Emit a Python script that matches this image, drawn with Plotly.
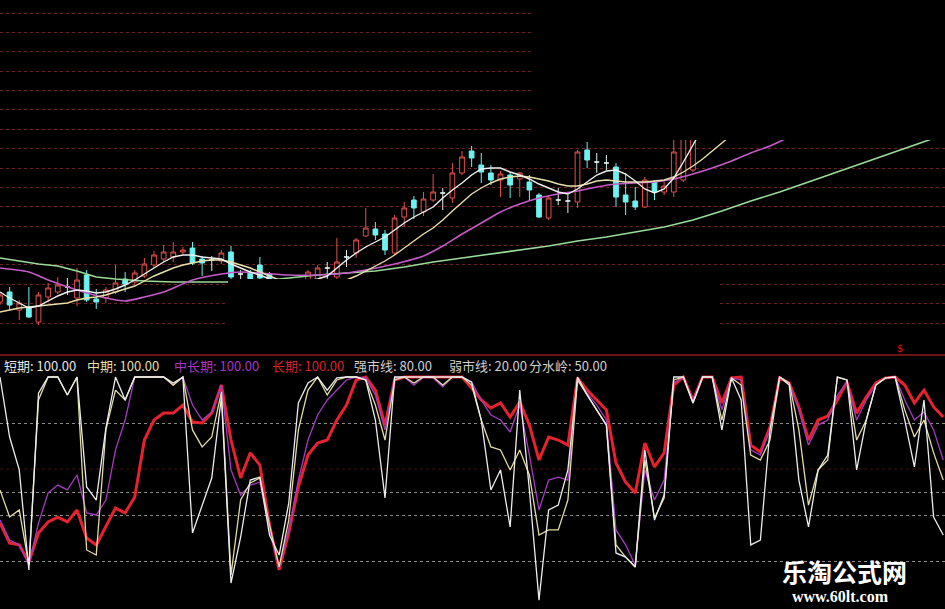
import plotly.graph_objects as go

W, H = 945, 609

# ---------------- price panel data ----------------
bars = list(range(73))
open_ = [6.98, 7.08, 6.90, 6.93, 6.78, 7.03, 7.08, 7.13, 7.02, 7.25,
         7.01, 7.02, 7.08, 7.21, 7.18, 7.24, 7.35, 7.41, 7.43, 7.48,
         7.52, 7.41, 7.40, 7.39, 7.48, 7.26, 7.27, 7.35, 7.26, 7.15,
         7.04, 7.10, 7.18, 7.20, 7.32, 7.23, 7.43, 7.47, 7.64, 7.71,
         7.66, 7.47, 7.83, 8.00, 7.88, 8.00, 8.07, 8.02, 8.27, 8.49,
         8.35, 8.27, 8.20, 8.25, 8.21, 8.18, 8.05, 7.82, 8.00, 7.99,
         7.98, 8.50, 8.38, 8.37, 8.33, 8.05, 7.99, 7.93, 8.18, 8.08,
         8.08, 8.20, 8.30]
high = [7.08, 7.13, 7.00, 7.13, 7.08, 7.17, 7.23, 7.22, 7.32, 7.30,
        7.11, 7.13, 7.35, 7.28, 7.30, 7.42, 7.49, 7.55, 7.58, 7.53,
        7.58, 7.44, 7.44, 7.50, 7.54, 7.30, 7.30, 7.43, 7.28, 7.20,
        7.16, 7.21, 7.30, 7.35, 7.38, 7.62, 7.50, 7.62, 7.92, 7.78,
        7.70, 7.85, 7.98, 8.04, 8.08, 8.26, 8.12, 8.37, 8.49, 8.54,
        8.47, 8.35, 8.29, 8.28, 8.28, 8.25, 8.07, 8.05, 8.12, 8.05,
        8.50, 8.58, 8.47, 8.45, 8.37, 8.27, 8.13, 8.23, 8.20, 8.18,
        8.75, 8.80, 8.80]
low = [6.95, 6.90, 6.80, 6.82, 6.75, 6.98, 7.06, 7.05, 6.94, 6.98,
       6.91, 6.97, 7.06, 7.08, 7.15, 7.22, 7.32, 7.38, 7.38, 7.46,
       7.35, 7.24, 7.29, 7.36, 7.18, 7.15, 7.10, 7.10, 7.08, 7.00,
       7.00, 7.08, 7.15, 7.18, 7.20, 7.21, 7.33, 7.42, 7.63, 7.60,
       7.45, 7.45, 7.73, 7.81, 7.84, 7.98, 7.90, 7.97, 8.25, 8.33,
       8.17, 8.15, 8.03, 8.02, 8.03, 8.00, 7.82, 7.80, 7.95, 7.87,
       7.92, 8.32, 8.27, 8.30, 7.93, 7.85, 7.90, 7.92, 8.00, 8.05,
       8.03, 8.18, 8.28]
close = [7.05, 6.95, 6.97, 6.83, 7.05, 7.12, 7.15, 7.13, 7.20, 7.00,
         6.98, 7.10, 7.17, 7.16, 7.27, 7.36, 7.45, 7.48, 7.48, 7.50,
         7.37, 7.37, 7.40, 7.47, 7.23, 7.26, 7.21, 7.22, 7.15, 7.05,
         7.12, 7.19, 7.28, 7.32, 7.32, 7.38, 7.43, 7.60, 7.72, 7.65,
         7.50, 7.82, 7.92, 7.92, 8.01, 8.08, 8.07, 8.27, 8.43, 8.42,
         8.28, 8.20, 8.26, 8.15, 8.27, 8.10, 7.83, 8.02, 8.00, 7.99,
         8.48, 8.40, 8.38, 8.37, 8.03, 7.98, 7.93, 8.20, 8.08, 8.14,
         8.48, 8.70, 8.75]

ma5 = [7.08, 7.02, 6.97, 6.92, 6.94, 6.99, 7.04, 7.08, 7.10, 7.09,
       7.07, 7.08, 7.11, 7.15, 7.20, 7.26, 7.32, 7.38, 7.43, 7.45,
       7.45, 7.43, 7.42, 7.41, 7.36, 7.32, 7.28, 7.25, 7.21, 7.17,
       7.15, 7.16, 7.19, 7.21, 7.24, 7.32, 7.40, 7.47, 7.53, 7.58,
       7.63, 7.70, 7.77, 7.83, 7.88, 7.93, 8.02, 8.10, 8.17, 8.25,
       8.31, 8.32, 8.32, 8.28, 8.25, 8.21, 8.16, 8.12, 8.08, 8.06,
       8.11, 8.18, 8.25, 8.29, 8.30, 8.26, 8.19, 8.11, 8.07, 8.11,
       8.22, 8.38, 8.55, 8.72]
ma10 = [6.88, 6.90, 6.92, 6.93, 6.94, 6.95, 6.96, 6.97, 7.00, 7.02,
        7.03, 7.05, 7.08, 7.11, 7.14, 7.19, 7.24, 7.28, 7.32, 7.35,
        7.37, 7.39, 7.40, 7.40, 7.38, 7.35, 7.32, 7.28, 7.24, 7.20,
        7.17, 7.15, 7.14, 7.15, 7.16, 7.18, 7.20, 7.24, 7.29, 7.34,
        7.39, 7.45, 7.52, 7.59, 7.66, 7.72, 7.80, 7.89, 7.98, 8.06,
        8.12, 8.17, 8.21, 8.23, 8.24, 8.23, 8.21, 8.19, 8.16, 8.14,
        8.14, 8.16, 8.19, 8.20, 8.19, 8.18, 8.18, 8.18, 8.19, 8.20,
        8.23, 8.28, 8.34, 8.41, 8.49, 8.57, 8.65]
ma30_idx = [0, 3, 5, 8, 11, 13, 15, 17, 20, 23, 25, 27, 30, 33, 35, 38, 41, 44, 46,
            48, 50, 52, 54, 56, 58, 60, 62, 64, 66, 68, 70, 72, 74, 76, 78, 80, 82]
ma30 = [7.32, 7.28, 7.20, 7.10, 7.02, 6.99, 7.03, 7.08, 7.20, 7.26, 7.28, 7.27, 7.25,
        7.25, 7.26, 7.30, 7.36, 7.44, 7.54, 7.66, 7.77, 7.88, 7.96, 8.02, 8.06, 8.09,
        8.13, 8.16, 8.17, 8.18, 8.21, 8.26, 8.32, 8.39, 8.47, 8.54, 8.63]
ma60_idx = [0, 2, 4, 6, 8, 10, 12, 15, 18, 21, 24, 27, 30, 33, 36, 39, 42, 45, 48, 51,
            54, 57, 60, 63, 66, 69, 72, 75, 78, 81, 84, 87, 90, 93, 96, 98]
ma60 = [7.42, 7.39, 7.36, 7.34, 7.29, 7.23, 7.21, 7.19, 7.18, 7.18, 7.18, 7.19, 7.22,
        7.25, 7.27, 7.29, 7.33, 7.38, 7.42, 7.46, 7.50, 7.54, 7.59, 7.63, 7.68, 7.73,
        7.80, 7.89, 7.99, 8.08, 8.18, 8.28, 8.38, 8.48, 8.58, 8.65]

# ---------------- indicator panel data ----------------
ind_x = list(range(99))
short = [100.0, 73.9, 59.6, 16.1, 93.0, 100.0, 100.0, 92.2, 100.0, 52.2,
         46.5, 77.8, 100.0, 90.0, 100.0, 100.0, 100.0, 100.0, 97.4, 100.0,
         32.2, 44.3, 56.1, 91.3, 10.4, 30.4, 55.2, 56.5, 31.3, 22.6,
         45.2, 88.7, 97.4, 100.0, 94.3, 99.6, 100.0, 100.0, 98.7, 81.3,
         47.4, 100.0, 100.0, 100.0, 100.0, 100.0, 100.0, 100.0, 100.0, 97.8,
         81.3, 50.9, 59.6, 34.8, 94.3, 50.9, 3.0, 42.2, 44.3, 59.6,
         100.0, 92.2, 85.7, 79.1, 23.5, 21.7, 17.4, 68.3, 37.8, 48.7,
         100.0, 100.0, 88.7, 100.0, 100.0, 77.0, 99.6, 90.0, 27.0, 29.1,
         77.0, 100.0, 96.5, 55.2, 34.8, 59.6, 66.1, 100.0, 98.7, 59.6,
         81.3, 96.5, 99.6, 100.0, 81.3, 60.9, 90.0, 39.1, 31.3]
mid = [50.9, 39.1, 42.2, 18.3, 90.0, 100.0, 100.0, 92.2, 100.0, 24.8,
       22.6, 77.0, 94.3, 90.0, 100.0, 100.0, 100.0, 100.0, 96.5, 100.0,
       77.0, 69.6, 73.9, 93.5, 13.9, 46.5, 53.9, 56.1, 35.7, 17.4,
       37.8, 77.0, 94.3, 100.0, 92.2, 98.7, 100.0, 100.0, 98.7, 87.8,
       72.6, 98.7, 100.0, 97.4, 100.0, 100.0, 96.5, 100.0, 100.0, 96.5,
       81.3, 69.6, 68.3, 59.6, 68.3, 57.4, 31.3, 33.5, 33.5, 46.5,
       98.7, 92.2, 85.7, 79.1, 27.0, 21.7, 17.4, 63.9, 38.7, 47.4,
       98.7, 100.0, 88.7, 100.0, 100.0, 81.3, 99.6, 96.5, 66.1, 63.9,
       72.6, 100.0, 97.4, 77.0, 44.3, 59.6, 63.9, 100.0, 98.7, 72.6,
       81.3, 96.5, 99.6, 100.0, 85.7, 73.9, 81.3, 67.0, 55.2]
midlong = [37.8, 29.1, 27.0, 18.3, 36.5, 49.6, 53.0, 50.9, 57.4, 40.9,
           40.0, 46.5, 68.3, 81.3, 100.0, 100.0, 100.0, 100.0, 96.5, 100.0,
           87.8, 81.3, 84.8, 96.5, 59.6, 48.7, 53.0, 54.3, 33.5, 17.0,
           33.5, 55.2, 72.6, 83.5, 90.0, 94.3, 98.7, 100.0, 99.6, 92.2,
           77.0, 99.6, 100.0, 96.5, 100.0, 99.6, 95.7, 100.0, 100.0, 97.8,
           90.0, 83.5, 81.3, 76.1, 87.8, 66.1, 42.2, 55.2, 56.5, 55.2,
           98.7, 93.0, 87.8, 81.3, 33.5, 27.0, 18.3, 59.6, 46.5, 55.2,
           97.4, 100.0, 90.0, 100.0, 100.0, 85.7, 99.6, 98.7, 68.3, 66.1,
           77.0, 100.0, 97.4, 85.7, 70.4, 79.1, 81.3, 92.2, 97.8, 81.3,
           90.0, 96.5, 99.6, 100.0, 90.0, 81.3, 84.8, 77.0, 63.9]
long_ = [36.5, 27.8, 27.0, 19.6, 32.2, 37.0, 39.1, 37.0, 42.2, 30.0,
         27.0, 34.8, 43.0, 40.9, 47.8, 72.6, 81.3, 84.3, 84.3, 87.8,
         80.4, 80.0, 84.3, 96.5, 72.6, 56.1, 67.0, 61.7, 35.7, 16.1,
         32.2, 52.2, 66.1, 71.3, 72.6, 81.3, 87.8, 98.7, 100.0, 94.3,
         79.1, 98.7, 100.0, 100.0, 100.0, 100.0, 100.0, 100.0, 100.0, 95.2,
         90.0, 86.5, 88.7, 82.6, 89.1, 79.1, 63.9, 73.9, 72.6, 70.4,
         99.6, 94.3, 90.0, 85.7, 62.6, 54.3, 49.6, 71.3, 60.9, 67.0,
         96.5, 100.0, 90.0, 100.0, 100.0, 88.7, 99.6, 100.0, 70.4, 67.4,
         78.3, 99.6, 97.4, 87.0, 72.6, 81.3, 83.0, 90.0, 97.8, 84.3,
         91.3, 97.4, 99.6, 100.0, 96.5, 88.7, 94.3, 87.0, 82.6]

legend_names = ["短期", "中期", "中长期", "长期", "强市线", "弱市线", "分水岭"]
legend_values = [100.00, 100.00, 100.00, 100.00, 80.00, 20.00, 50.00]
legend_colors = ["#e6e6e6", "#e4dea8", "#a835c4", "#d8202a", "#cfcfcf", "#cfcfcf", "#cfcfcf"]
legend_px = [2, 85, 172, 270, 352, 447, 527]
grid_levels = [20, 40, 50, 80]

# ---------------- styling ----------------
C_UP = "#e0504c"
C_DN = "#6cf2f0"
C_DOJI = "#dfeeee"
C_MA5 = "#f0f0f0"
C_MA10 = "#e8e0a8"
C_MA30 = "#c65ac8"
C_MA60 = "#98dc98"
C_SHORT = "#ececec"
C_MID = "#e2dba2"
C_MIDLONG = "#a43cc0"
C_LONG = "#e5222e"


def py(px):
    return 1 - px / H


def px_x(px):
    return px / W


bar_px = 9.625
x_range = [0, W / bar_px]

fig = go.Figure()

up = [i for i in bars if close[i] > open_[i]]
dn = [i for i in bars if close[i] < open_[i]]
dj = [i for i in bars if close[i] == open_[i]]


def pick(lst, idx):
    return [lst[i] for i in idx]


for idx, col, fill in [(dn, C_DN, C_DN), (up, C_UP, "#000000"), (dj, C_DOJI, C_DOJI)]:
    fig.add_trace(go.Candlestick(
        x=idx, open=pick(open_, idx), high=pick(high, idx), low=pick(low, idx),
        close=pick(close, idx),
        increasing=dict(line=dict(color=col, width=1), fillcolor=fill),
        decreasing=dict(line=dict(color=col, width=1), fillcolor=fill),
        whiskerwidth=0, showlegend=False, hoverinfo="skip",
        xaxis="x", yaxis="y"))

fig.add_trace(go.Scatter(x=ma60_idx, y=ma60, mode="lines", line=dict(color=C_MA60, width=1.6),
                         xaxis="x", yaxis="y", showlegend=False, hoverinfo="skip"))
fig.add_trace(go.Scatter(x=ma30_idx, y=ma30, mode="lines",
                         line=dict(color=C_MA30, width=1.6, shape="spline", smoothing=0.6),
                         xaxis="x", yaxis="y", showlegend=False, hoverinfo="skip"))
fig.add_trace(go.Scatter(x=list(range(len(ma10))), y=ma10, mode="lines", line=dict(color=C_MA10, width=1.4),
                         xaxis="x", yaxis="y", showlegend=False, hoverinfo="skip"))
fig.add_trace(go.Scatter(x=list(range(len(ma5))), y=ma5, mode="lines", line=dict(color=C_MA5, width=1.4),
                         xaxis="x", yaxis="y", showlegend=False, hoverinfo="skip"))

for series, col, w in [(long_, C_LONG, 3.0), (midlong, C_MIDLONG, 1.3), (mid, C_MID, 1.3), (short, C_SHORT, 1.3)]:
    fig.add_trace(go.Scatter(x=ind_x, y=series, mode="lines", line=dict(color=col, width=w),
                             xaxis="x2", yaxis="y2", showlegend=False, hoverinfo="skip"))

price_top_px, price_bot_px = 0, 335
fig.update_layout(
    width=W, height=H,
    margin=dict(l=0, r=0, t=0, b=0),
    paper_bgcolor="#000000", plot_bgcolor="#000000",
    showlegend=False,
    xaxis=dict(domain=[0, 1], range=x_range, visible=False, anchor="y",
               rangeslider=dict(visible=False)),
    yaxis=dict(domain=[py(price_bot_px), py(price_top_px)], range=[6.65, 10.0],
               showticklabels=False, ticks="", zeroline=False, showline=False,
               showgrid=True, gridcolor="#6a2424", griddash="dot", gridwidth=1,
               tick0=6.77, dtick=0.19375, anchor="x"),
    xaxis2=dict(domain=[0, 1], range=x_range, visible=False, anchor="y2"),
    yaxis2=dict(domain=[0, py(355)], range=[-0.87, 109.57],
                showticklabels=False, ticks="", zeroline=False, showline=False,
                showgrid=True, gridcolor="#8a8a8a", griddash="dot", gridwidth=1,
                tickmode="array", tickvals=grid_levels, anchor="x2"),
)

shapes = []
shapes.append(dict(type="line", xref="paper", yref="y2", x0=0, x1=1, y0=60, y1=60,
                   line=dict(color="#3e1212", width=1, dash="dot"), layer="below"))
shapes.append(dict(type="rect", xref="paper", yref="paper", x0=px_x(228), x1=px_x(720),
                   y0=py(353), y1=py(279), fillcolor="#000000", line=dict(width=0), layer="above"))
shapes.append(dict(type="rect", xref="paper", yref="paper", x0=px_x(533), x1=1,
                   y0=py(140), y1=1, fillcolor="#000000", line=dict(width=0), layer="above"))
shapes.append(dict(type="line", xref="paper", yref="paper", x0=0, x1=1, y0=py(355), y1=py(355),
                   line=dict(color="#8c1a1a", width=1.5), layer="above"))
fig.update_layout(shapes=shapes)

ann = []
for name, val, col, xp in zip(legend_names, legend_values, legend_colors, legend_px):
    ann.append(dict(xref="paper", yref="paper", x=px_x(xp), y=py(365), xanchor="left", yanchor="middle",
                    text=f"{name}: {val:.2f}", showarrow=False,
                    font=dict(family="Noto Sans CJK SC", size=13, color=col)))
ann.append(dict(xref="paper", yref="paper", x=px_x(900), y=py(348), xanchor="center", yanchor="middle",
                text="$", showarrow=False, font=dict(family="DejaVu Sans", size=10, color="#d01818")))
ann.append(dict(xref="paper", yref="paper", x=px_x(844), y=py(571), xanchor="center", yanchor="middle",
                text="<b>乐淘公式网</b>", showarrow=False,
                font=dict(family="Noto Sans CJK SC", size=25, color="#ffffff")))
ann.append(dict(xref="paper", yref="paper", x=px_x(840), y=py(596), xanchor="center", yanchor="middle",
                text="<b>www.60lt.com</b>", showarrow=False,
                font=dict(family="Liberation Serif", size=16, color="#ffffff")))
fig.update_layout(annotations=ann)

fig.write_html("out.html",
               config={"displayModeBar": False},
               post_script="document.body.style.margin='0px';document.body.style.padding='0px';"
                           "document.documentElement.style.overflow='hidden';")
